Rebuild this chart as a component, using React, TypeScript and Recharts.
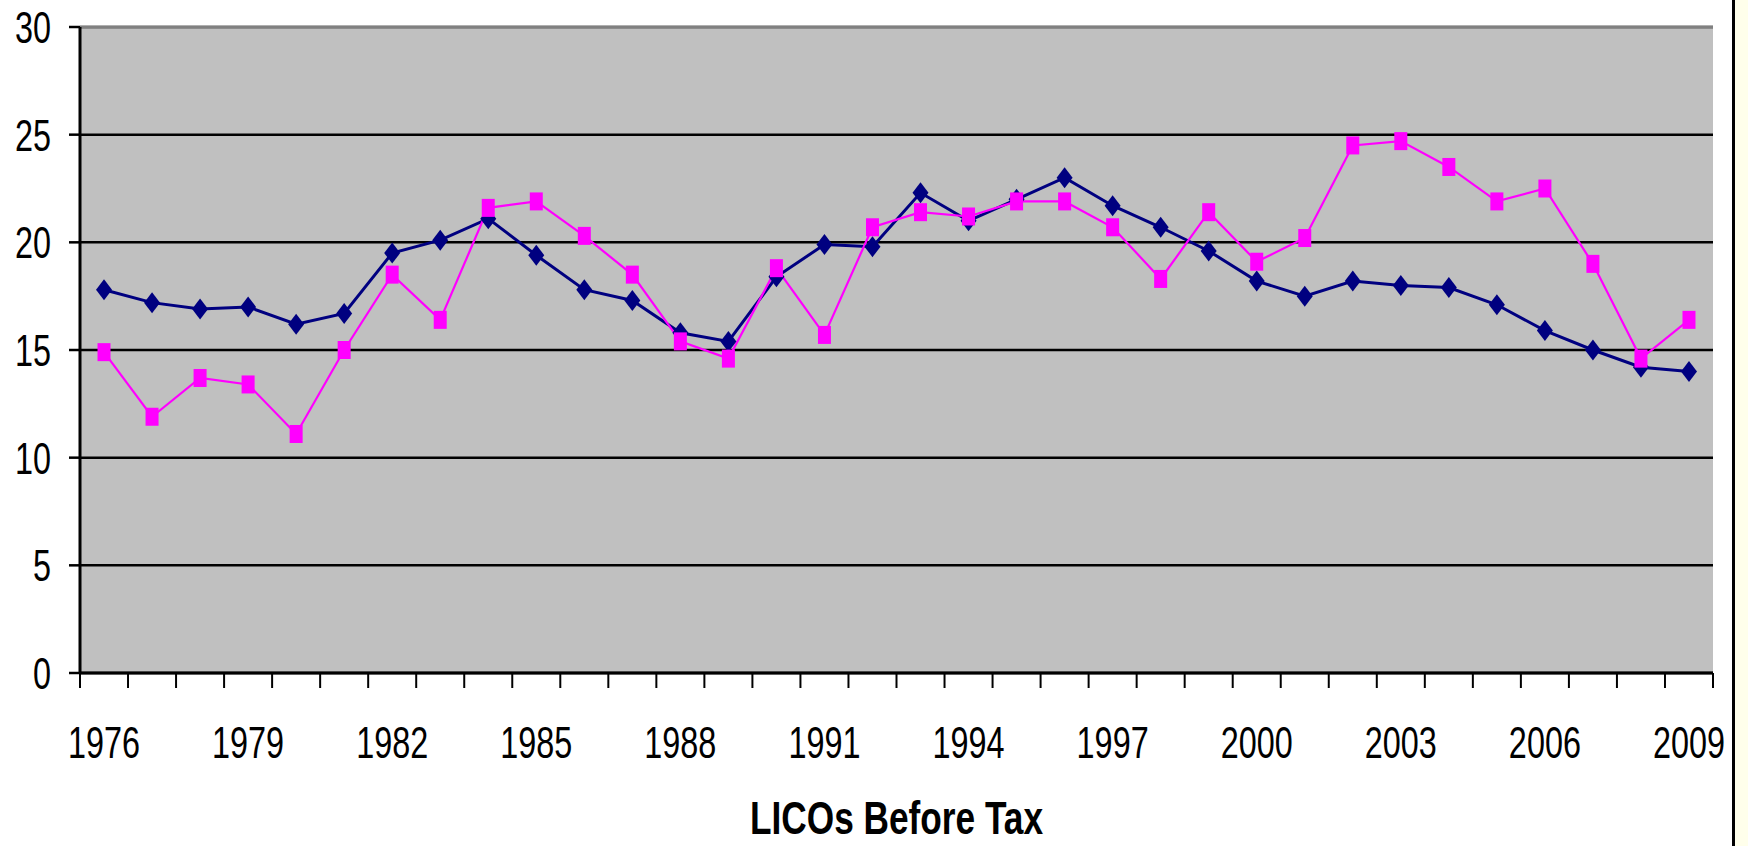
import React from 'react';
import { LineChart, Line, XAxis, YAxis, CartesianGrid, ReferenceLine, Label } from 'recharts';

const years = [
  '1976', '1977', '1978', '1979', '1980', '1981', '1982', '1983', '1984', '1985', '1986', '1987',
  '1988', '1989', '1990', '1991', '1992', '1993', '1994', '1995', '1996', '1997', '1998', '1999',
  '2000', '2001', '2002', '2003', '2004', '2005', '2006', '2007', '2008', '2009',
];

// navy diamonds
const seriesA = [
  17.8, 17.2, 16.9, 17.0, 16.2, 16.7, 19.5, 20.1, 21.1, 19.4, 17.8, 17.3,
  15.8, 15.4, 18.4, 19.9, 19.8, 22.3, 21.0, 22.0, 23.0, 21.7, 20.7, 19.6,
  18.2, 17.5, 18.2, 18.0, 17.9, 17.1, 15.9, 15.0, 14.2, 14.0,
];

// magenta squares
const seriesB = [
  14.9, 11.9, 13.7, 13.4, 11.1, 15.0, 18.5, 16.4, 21.6, 21.9, 20.3, 18.5,
  15.4, 14.6, 18.8, 15.7, 20.7, 21.4, 21.2, 21.9, 21.9, 20.7, 18.3, 21.4,
  19.1, 20.2, 24.5, 24.7, 23.5, 21.9, 22.5, 19.0, 14.6, 16.4,
];

const yTicks = [0, 5, 10, 15, 20, 25, 30];
const title = 'LICOs Before Tax';

const W = 1748;
const H = 846;
const M = { top: 27, right: 35, left: 0, bottom: 0 };
const Y_W = 80;
const PLOT_W = W - M.left - M.right - Y_W;
const HALF_BAND = PLOT_W / years.length / 2;

// no narrow font installed, so squeeze Liberation Sans horizontally
const FONT = "'Liberation Sans', Arial, sans-serif";
const SQUEEZE = 0.72;

const data = years.map((y, i) => ({ year: y, a: seriesA[i], b: seriesB[i] }));

function NarrowText({ x, y, anchor, size, bold, squeeze = SQUEEZE, children }: any) {
  return (
    <text
      transform={`translate(${x},${y}) scale(${squeeze},1)`}
      textAnchor={anchor}
      fontSize={size}
      fontWeight={bold ? 'bold' : 'normal'}
      fontFamily={FONT}
      fill="#000"
    >
      {children}
    </text>
  );
}

function XTick(props: any) {
  const { x, y, payload, index } = props;
  const i = index ?? payload?.index ?? 0;
  const last = i === years.length - 1;
  return (
    <g>
      <line x1={x - HALF_BAND} y1={y} x2={x - HALF_BAND} y2={y + 15} stroke="#000" strokeWidth={2} />
      {last && <line x1={x + HALF_BAND} y1={y} x2={x + HALF_BAND} y2={y + 15} stroke="#000" strokeWidth={2} />}
      {i % 3 === 0 && (
        <NarrowText x={x} y={y + 85} anchor="middle" size={45}>
          {payload.value}
        </NarrowText>
      )}
    </g>
  );
}

function YTick(props: any) {
  const { x, y, payload } = props;
  return (
    <NarrowText x={x} y={y + 16} anchor="end" size={45}>
      {payload.value}
    </NarrowText>
  );
}

function TitleLabel(props: any) {
  const vb = props.viewBox || {};
  return (
    <NarrowText x={vb.x + vb.width / 2} y={vb.y + vb.height - 12} anchor="middle" size={47} bold squeeze={0.75}>
      {title}
    </NarrowText>
  );
}

function Diamond(props: any) {
  const { cx, cy, index } = props;
  if (cx == null || cy == null) return <g key={index} />;
  const w = 8;
  const h = 10.5;
  return (
    <polygon
      key={index}
      points={`${cx},${cy - h} ${cx + w},${cy} ${cx},${cy + h} ${cx - w},${cy}`}
      fill="#000080"
    />
  );
}

function Square(props: any) {
  const { cx, cy, index } = props;
  if (cx == null || cy == null) return <g key={index} />;
  return <rect key={index} x={cx - 6.5} y={cy - 9} width={13} height={18} fill="#FF00FF" />;
}

export default function App() {
  return (
    <div style={{ position: 'absolute', left: 0, top: 0, width: W, height: H, background: '#fff' }}>
      <LineChart width={W} height={H} data={data} margin={M}>
        <CartesianGrid fill="#C0C0C0" vertical={false} stroke="#000" strokeWidth={2.5} />
        <ReferenceLine y={30} stroke="#808080" strokeWidth={2.5} />
        <XAxis
          dataKey="year"
          type="category"
          interval={0}
          padding={{ left: HALF_BAND, right: HALF_BAND }}
          height={H - 673}
          tickSize={0}
          tickMargin={0}
          tickLine={false}
          axisLine={{ stroke: '#000', strokeWidth: 3 }}
          tick={<XTick />}
        >
          <Label content={<TitleLabel />} />
        </XAxis>
        <YAxis
          domain={[0, 30]}
          ticks={yTicks}
          width={Y_W}
          interval={0}
          tickSize={11}
          tickMargin={18}
          tickLine={{ stroke: '#000', strokeWidth: 2.5 }}
          axisLine={{ stroke: '#000', strokeWidth: 3 }}
          tick={<YTick />}
        />
        <YAxis
          yAxisId="r"
          orientation="right"
          domain={[0, 30]}
          width={0}
          tick={false}
          tickLine={false}
          axisLine={{ stroke: '#808080', strokeWidth: 2.5 }}
        />
        <Line
          dataKey="a"
          stroke="#000080"
          strokeWidth={3}
          dot={(p: any) => <Diamond key={p.index} {...p} />}
          activeDot={false}
          isAnimationActive={false}
        />
        <Line
          dataKey="b"
          stroke="#FF00FF"
          strokeWidth={2.2}
          dot={(p: any) => <Square key={p.index} {...p} />}
          activeDot={false}
          isAnimationActive={false}
        />
      </LineChart>
      <div
        style={{
          position: 'absolute',
          left: 1732,
          top: 0,
          width: W - 1732,
          height: H,
          background: '#FFFFEB',
          borderLeft: '3px solid #000',
          boxSizing: 'border-box',
        }}
      />
    </div>
  );
}
